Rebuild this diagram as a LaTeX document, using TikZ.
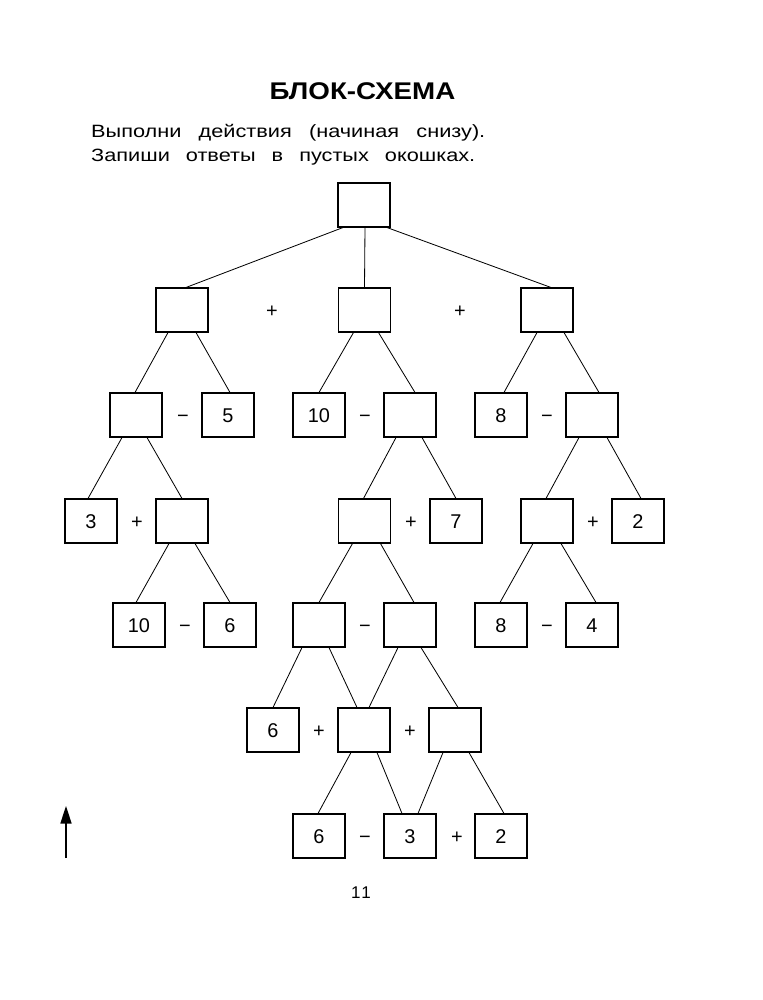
\documentclass[tikz,border=0pt]{standalone}
\usepackage{fontspec}
\setmainfont{Liberation Sans}
\newfontfamily\titlefont[FakeStretch=1.15]{Liberation Sans}
\newfontfamily\bodyfont[FakeStretch=1.22]{Liberation Sans}
\newfontfamily\pagefont[LetterSpace=12]{Liberation Sans}
\usetikzlibrary{calc,arrows.meta}
\begin{document}
\begin{tikzpicture}[x=0.03cm,y=-0.03cm,
  box/.style={draw,line width=0.9pt,minimum width=1.56cm,minimum height=1.32cm,inner sep=0pt,
    font=\fontsize{17}{17}\selectfont,text height=12.2pt,text depth=0pt},
  op/.style={inner sep=0pt,anchor=base,font=\fontsize{17}{17}\selectfont},
  conn/.style={line width=0.7pt}
]
\useasboundingbox (0,0) rectangle (763,1000);
% title and instructions
\node (title) at (362.5,91.5) {\titlefont\fontsize{20.6}{20.6}\selectfont\bfseries БЛОК-СХЕМА};
\node[anchor=base west,inner sep=0pt] (line1) at (91,137.5) {\bodyfont\fontsize{15.2}{15.2}\selectfont\makebox[11.82cm][s]{Выполни действия (начиная снизу).}};
\node[anchor=base west,inner sep=0pt] (line2) at (91,161) {\bodyfont\fontsize{15.2}{15.2}\selectfont\makebox[11.52cm][s]{Запиши ответы в пустых окошках.}};
% level 0
\node[box] (T) at (364,205) {};
% level 1
\node[box] (A) at (182,310) {};
\node[op] (pA) at (272,317) {+};
\node[box] (B) at (364.5,310) {};
\node[op] (pB) at (460,317) {+};
\node[box] (C) at (547,310) {};
% level 2
\node[box] (A1) at (136,415) {};
\node[op] (mA1) at (183,422) {−};
\node[box] (n5) at (228,415) {5};
\node[box] (n10a) at (319,415) {10};
\node[op] (mB2) at (365,422) {−};
\node[box] (B2) at (410,415) {};
\node[box] (n8a) at (501,415) {8};
\node[op] (mC2) at (547,422) {−};
\node[box] (C2) at (592,415) {};
% level 3
\node[box] (n3a) at (91,521) {3};
\node[op] (pA2) at (137,528) {+};
\node[box] (A2) at (182,521) {};
\node[box] (B3) at (364.5,521) {};
\node[op] (pB3) at (411,528) {+};
\node[box] (n7) at (456,521) {7};
\node[box] (C3) at (547,521) {};
\node[op] (pC3) at (593,528) {+};
\node[box] (n2a) at (638,521) {2};
% level 4
\node[box] (n10b) at (139,625) {10};
\node[op] (mA3) at (185,632) {−};
\node[box] (n6a) at (230,625) {6};
\node[box] (B4a) at (319,625) {};
\node[op] (mB4) at (365,632) {−};
\node[box] (B4b) at (410,625) {};
\node[box] (n8b) at (501,625) {8};
\node[op] (mC4) at (547,632) {−};
\node[box] (n4) at (592,625) {4};
% level 5
\node[box] (n6b) at (273,730) {6};
\node[op] (pB5a) at (319,737) {+};
\node[box] (B5a) at (364,730) {};
\node[op] (pB5b) at (410,737) {+};
\node[box] (B5b) at (455,730) {};
% level 6
\node[box] (n6c) at (319,836) {6};
\node[op] (mB6) at (365,843) {−};
\node[box] (n3b) at (410,836) {3};
\node[op] (pB6) at (457,843) {+};
\node[box] (n2b) at (501,836) {2};
% connectors
\draw[conn] ($(T.south)+(-21,0)$) -- ($(A.north)+(4,0)$);
\draw[conn] ($(T.south)+(1,0)$) -- ($(B.north)+(0,0)$);
\draw[conn] ($(T.south)+(23,0)$) -- ($(C.north)+(4,0)$);
\draw[conn] ($(A.south)+(-14,0)$) -- ($(A1.north)+(-1,0)$);
\draw[conn] ($(A.south)+(14,0)$) -- ($(n5.north)+(2,0)$);
\draw[conn] ($(B.south)+(-11,0)$) -- ($(n10a.north)+(0,0)$);
\draw[conn] ($(B.south)+(14,0)$) -- ($(B2.north)+(5,0)$);
\draw[conn] ($(C.south)+(-10,0)$) -- ($(n8a.north)+(3,0)$);
\draw[conn] ($(C.south)+(17,0)$) -- ($(C2.north)+(7,0)$);
\draw[conn] ($(A1.south)+(-14,0)$) -- ($(n3a.north)+(-3,0)$);
\draw[conn] ($(A1.south)+(11,0)$) -- ($(A2.north)+(0,0)$);
\draw[conn] ($(B2.south)+(-14,0)$) -- ($(B3.north)+(-1,0)$);
\draw[conn] ($(B2.south)+(12,0)$) -- ($(n7.north)+(0,0)$);
\draw[conn] ($(C2.south)+(-13,0)$) -- ($(C3.north)+(-1,0)$);
\draw[conn] ($(C2.south)+(15,0)$) -- ($(n2a.north)+(3,0)$);
\draw[conn] ($(A2.south)+(-13,0)$) -- ($(n10b.north)+(-3,0)$);
\draw[conn] ($(A2.south)+(13,0)$) -- ($(n6a.north)+(0,0)$);
\draw[conn] ($(B3.south)+(-12,0)$) -- ($(B4a.north)+(0,0)$);
\draw[conn] ($(B3.south)+(16,0)$) -- ($(B4b.north)+(4,0)$);
\draw[conn] ($(C3.south)+(-14,0)$) -- ($(n8b.north)+(-1,0)$);
\draw[conn] ($(C3.south)+(14,0)$) -- ($(n4.north)+(4,0)$);
\draw[conn] ($(B4a.south)+(-17,0)$) -- ($(n6b.north)+(0,0)$);
\draw[conn] ($(B4a.south)+(10,0)$) -- ($(B5a.north)+(-7,0)$);
\draw[conn] ($(B4b.south)+(-12,0)$) -- ($(B5a.north)+(5,0)$);
\draw[conn] ($(B4b.south)+(11,0)$) -- ($(B5b.north)+(3,0)$);
\draw[conn] ($(B5a.south)+(-13,0)$) -- ($(n6c.north)+(-1,0)$);
\draw[conn] ($(B5a.south)+(13,0)$) -- ($(n3b.north)+(-8,0)$);
\draw[conn] ($(B5b.south)+(-12,0)$) -- ($(n3b.north)+(8,0)$);
\draw[conn] ($(B5b.south)+(14,0)$) -- ($(n2b.north)+(3,0)$);
% arrow and page number
\coordinate (arrowfoot) at (66,858);
\coordinate (arrowtip) at (66,806);
\draw[line width=1.1pt,-{Triangle[length=15pt,width=9.5pt]}] (arrowfoot) -- (arrowtip);
\node (pagenum) at (361,892.5) {\pagefont\fontsize{14.5}{14.5}\selectfont 11};
\end{tikzpicture}
\end{document}
